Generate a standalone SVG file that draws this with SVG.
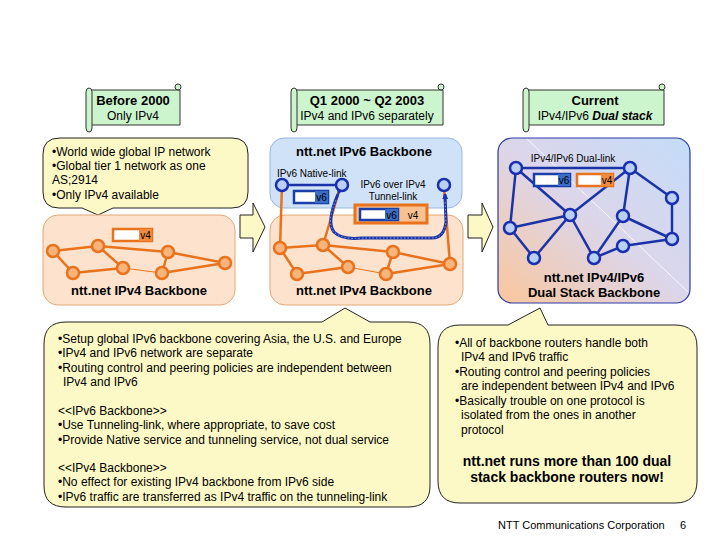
<svg xmlns="http://www.w3.org/2000/svg" width="720" height="540" viewBox="0 0 720 540">
<defs>
<style>
text{font-family:"Liberation Sans",Arial,sans-serif;fill:#000}
.t12{font-size:12px}
.t11{font-size:11px}
.t10{font-size:10px}
.b13{font-size:13px;font-weight:bold}
.b14{font-size:14px;font-weight:bold}
.scroll{fill:#cdf5cd;stroke:#333;stroke-width:1}
.call{fill:#fdf9c6;stroke:#222;stroke-width:1}
.arrow{fill:#fdf9c6;stroke:#222;stroke-width:1}
.opanel{fill:#fde3cd;stroke:#e2a877;stroke-width:1}
.bpanel{fill:#cfe2f8;stroke:#9ab6dd;stroke-width:1}
.oline{stroke:#e8731c;stroke-width:2.5;fill:none}
.othin{stroke:#e8731c;stroke-width:1;fill:none}
.onode{fill:#f8b47a;stroke:#e8731c;stroke-width:2.5}
.bline{stroke:#1a34a8;stroke-width:2.5;fill:none}
.bnode{fill:#b9d0f2;stroke:#1a2fb0;stroke-width:2.5}
</style>
<linearGradient id="dual" x1="0" y1="1" x2="1" y2="0">
<stop offset="0" stop-color="#fbc69c"/>
<stop offset="0.5" stop-color="#dcd6ea"/>
<stop offset="1" stop-color="#c4dcf8"/>
</linearGradient>
<marker id="ah" markerWidth="6" markerHeight="6" refX="5" refY="3" orient="auto" markerUnits="userSpaceOnUse">
<path d="M0,0 L6,3 L0,6 z" fill="#1a34a8"/>
</marker>
</defs>

<!-- Headers -->
<g id="hdr-before">
<path class="scroll" d="M89,90 H180 V125 H89 Z"/>
<path class="scroll" d="M86,92 Q86,88 89,88 Q92,88 92,92 V128 Q92,132 89,132 Q86,132 86,128 Z"/>
<circle class="scroll" cx="178" cy="87" r="3"/>
<text class="b13" x="133" y="105" text-anchor="middle">Before 2000</text>
<text class="t12" x="133" y="120" text-anchor="middle">Only IPv4</text>
</g>
<g id="hdr-q1">
<path class="scroll" d="M294,90 H443 V125 H294 Z"/>
<path class="scroll" d="M291,92 Q291,88 294,88 Q297,88 297,92 V128 Q297,132 294,132 Q291,132 291,128 Z"/>
<circle class="scroll" cx="441" cy="87" r="3"/>
<text class="b13" x="367" y="105" text-anchor="middle">Q1 2000 ~ Q2 2003</text>
<text class="t12" x="367" y="120" text-anchor="middle">IPv4 and IPv6 separately</text>
</g>
<g id="hdr-current">
<path class="scroll" d="M526,90 H664 V125 H526 Z"/>
<path class="scroll" d="M523,92 Q523,88 526,88 Q529,88 529,92 V128 Q529,132 526,132 Q523,132 523,128 Z"/>
<circle class="scroll" cx="662" cy="87" r="3"/>
<text class="b13" x="595" y="105" text-anchor="middle">Current</text>
<text class="t12" x="595" y="120" text-anchor="middle">IPv4/IPv6 <tspan font-weight="bold" font-style="italic">Dual stack</tspan></text>
</g>

<!-- Left callout -->
<g id="callout-before">
<path class="call" d="M60,138 H232 Q248,138 248,154 V192 Q248,208 232,208 H113 L98,215 L82,208 H59 Q43,208 43,192 V154 Q43,138 60,138 Z"/>
<text class="t12" x="52" y="156">•World wide global IP network</text>
<text class="t12" x="52" y="170">•Global tier 1 network as one</text>
<text class="t12" x="52" y="184">AS;2914</text>
<text class="t12" x="52" y="199">•Only IPv4 available</text>
</g>

<!-- Left IPv4 backbone -->
<g id="ipv4-left">
<rect class="opanel" x="43" y="215" width="192" height="90" rx="15"/>
<g>
<line class="oline" x1="53" y1="251" x2="98" y2="246"/>
<line class="oline" x1="98" y1="246" x2="168" y2="252"/>
<line class="oline" x1="168" y1="252" x2="225" y2="263"/>
<line class="oline" x1="53" y1="251" x2="73" y2="273"/>
<line class="oline" x1="73" y1="273" x2="123" y2="268"/>
<line class="oline" x1="98" y1="246" x2="123" y2="268"/>
<line class="othin" x1="123" y1="268" x2="162" y2="273"/>
<line class="oline" x1="162" y1="273" x2="225" y2="263"/>
<line class="oline" x1="168" y1="252" x2="162" y2="273"/>
</g>
<rect x="113" y="229" width="39" height="12" fill="#fff" stroke="#e8731c" stroke-width="2.5"/>
<rect x="139" y="229" width="13" height="12" fill="#f08a3c"/>
<text class="t10" x="145.5" y="239" text-anchor="middle">v4</text>
<circle class="onode" cx="53" cy="251" r="6"/>
<circle class="onode" cx="98" cy="246" r="6"/>
<circle class="onode" cx="168" cy="252" r="6"/>
<circle class="onode" cx="225" cy="263" r="6"/>
<circle class="onode" cx="73" cy="273" r="6"/>
<circle class="onode" cx="123" cy="268" r="6"/>
<circle class="onode" cx="162" cy="273" r="6"/>
<text class="b13" x="139" y="295" text-anchor="middle">ntt.net IPv4 Backbone</text>
</g>

<!-- Arrows between stages -->
<g id="arrow-1">
<path class="arrow" d="M240,215 H253 V203 L265,227 L253,252 V238 H240 Z"/>
</g>
<g id="arrow-2">
<path class="arrow" d="M468,215 H482 V203 L493,227 L482,252 V238 H468 Z"/>
</g>

<!-- Middle: IPv6 backbone -->
<g id="ipv6-mid">
<rect class="bpanel" x="270" y="138" width="192" height="70" rx="14"/>
<text class="b13" x="364" y="156" text-anchor="middle">ntt.net IPv6 Backbone</text>
<text class="t10" x="277" y="177">IPv6 Native-link</text>
<text class="t10" x="393" y="188" text-anchor="middle">IPv6 over IPv4</text>
<text class="t10" x="393" y="200" text-anchor="middle">Tunnel-link</text>
</g>

<!-- Middle: IPv4 backbone -->
<g id="ipv4-mid">
<rect class="opanel" x="270" y="215" width="193" height="90" rx="15"/>
<text class="b13" x="364" y="295" text-anchor="middle">ntt.net IPv4 Backbone</text>
</g>

<!-- Right: dual stack panel -->
<g id="dual-stack">
<rect x="498" y="138" width="192" height="165" rx="14" fill="url(#dual)" stroke="#2a3aa8" stroke-width="1.2"/>
<line x1="527" y1="139" x2="688" y2="292" stroke="#fff" stroke-width="1" opacity="0.85"/>
<text class="t10" x="573" y="162" text-anchor="middle">IPv4/IPv6 Dual-link</text>
<text class="b13" x="594" y="282" text-anchor="middle">ntt.net IPv4/IPv6</text>
<text class="b13" x="594" y="297" text-anchor="middle">Dual Stack Backbone</text>
</g>

<!-- Connectors -->
<g id="connectors">
<line class="oline" x1="282" y1="185" x2="280" y2="248"/>
<line class="oline" x1="340" y1="188" x2="323" y2="245"/>
<line class="oline" x1="444" y1="188" x2="450" y2="264"/>
<line class="oline" x1="280" y1="248" x2="323" y2="245"/>
<line class="oline" x1="323" y1="245" x2="393" y2="252"/>
<line class="oline" x1="393" y1="252" x2="450" y2="264"/>
<line class="oline" x1="280" y1="248" x2="297" y2="274"/>
<line class="oline" x1="297" y1="274" x2="348" y2="267"/>
<line class="oline" x1="323" y1="245" x2="348" y2="267"/>
<line class="othin" x1="348" y1="267" x2="386" y2="274"/>
<line class="oline" x1="386" y1="274" x2="450" y2="264"/>
<line class="oline" x1="393" y1="252" x2="386" y2="274"/>
<line class="bline" x1="282" y1="185" x2="342" y2="185"/>
<path d="M338,194 Q326,222 334,232 Q342,240 362,238 H432 Q444,238 446,222 L445,194" fill="none" stroke="#1a34a8" stroke-width="3" marker-start="url(#ah)" marker-end="url(#ah)"/>
<path d="M336,200 Q326,222 334,232 Q342,240 362,238 H432 Q444,238 446,222 L445,200" fill="none" stroke="#8aa4e0" stroke-width="1" stroke-dasharray="1.5 2"/>
<line class="bline" x1="516" y1="168" x2="630" y2="168"/>
<line class="bline" x1="516" y1="168" x2="510" y2="228"/>
<line class="bline" x1="516" y1="168" x2="570" y2="215"/>
<line class="bline" x1="630" y1="168" x2="672" y2="198"/>
<line class="bline" x1="630" y1="168" x2="570" y2="215"/>
<line class="bline" x1="630" y1="168" x2="623" y2="216"/>
<line class="bline" x1="672" y1="198" x2="672" y2="239"/>
<line class="bline" x1="570" y1="215" x2="510" y2="228"/>
<line class="bline" x1="570" y1="215" x2="534" y2="258"/>
<line class="bline" x1="570" y1="215" x2="594" y2="258"/>
<line class="bline" x1="510" y1="228" x2="534" y2="258"/>
<line class="bline" x1="623" y1="216" x2="672" y2="239"/>
<line class="bline" x1="623" y1="216" x2="594" y2="258"/>
<line class="bline" x1="594" y1="258" x2="623" y2="246"/>
<line class="bline" x1="623" y1="246" x2="672" y2="239"/>
</g>

<!-- Middle nodes and link labels -->
<g id="mid-nodes">
<circle class="bnode" cx="282" cy="185" r="6"/>
<circle class="bnode" cx="342" cy="185" r="6"/>
<circle class="bnode" cx="444" cy="185" r="6"/>
<circle class="onode" cx="280" cy="248" r="6"/>
<circle class="onode" cx="323" cy="245" r="6"/>
<circle class="onode" cx="393" cy="252" r="6"/>
<circle class="onode" cx="450" cy="264" r="6"/>
<circle class="onode" cx="297" cy="274" r="6"/>
<circle class="onode" cx="348" cy="267" r="6"/>
<circle class="onode" cx="386" cy="274" r="6"/>
</g>
<g id="label-v6-native">
<rect x="294" y="191" width="34" height="12" fill="#fff" stroke="#1a3fa8" stroke-width="2.5"/>
<rect x="315" y="191" width="13" height="12" fill="#3b6cc8"/>
<text class="t10" x="321.5" y="201" text-anchor="middle">v6</text>
</g>
<g id="label-tunnel">
<rect x="355" y="205" width="72" height="18" fill="#f8c192" stroke="#e8731c" stroke-width="3"/>
<rect x="360" y="209" width="38" height="11" fill="#fff" stroke="#1a3fa8" stroke-width="2.5"/>
<rect x="385" y="209" width="13" height="11" fill="#3b6cc8"/>
<text class="t10" x="391.5" y="218.5" text-anchor="middle">v6</text>
<text class="t10" x="413" y="218.5" text-anchor="middle">v4</text>
</g>

<g id="dual-nodes">
<circle class="bnode" cx="516" cy="168" r="6"/>
<circle class="bnode" cx="630" cy="168" r="6"/>
<circle class="bnode" cx="672" cy="198" r="6"/>
<circle class="bnode" cx="570" cy="215" r="6"/>
<circle class="bnode" cx="623" cy="216" r="6"/>
<circle class="bnode" cx="510" cy="228" r="6"/>
<circle class="bnode" cx="672" cy="239" r="6"/>
<circle class="bnode" cx="623" cy="246" r="6"/>
<circle class="bnode" cx="534" cy="258" r="6"/>
<circle class="bnode" cx="594" cy="258" r="6"/>
</g>
<g id="label-dual">
<rect x="534" y="174" width="36" height="12" fill="#fff" stroke="#1a3fa8" stroke-width="2.5"/>
<rect x="558" y="174" width="12" height="12" fill="#3b6cc8"/>
<text class="t10" x="564" y="184" text-anchor="middle">v6</text>
<rect x="577" y="174" width="36" height="12" fill="#fff" stroke="#e8731c" stroke-width="2.5"/>
<rect x="601" y="174" width="12" height="12" fill="#f08a3c"/>
<text class="t10" x="607" y="184" text-anchor="middle">v4</text>
</g>

<!-- Middle callout -->
<g id="callout-mid">
<path class="call" d="M66,322 H322 L345,308 L370,322 H408 Q430,322 430,344 V486 Q430,507 408,507 H66 Q44,507 44,486 V344 Q44,322 66,322 Z"/>
<text class="t12" x="58" y="343">•Setup global IPv6 backbone covering Asia, the U.S. and Europe</text>
<text class="t12" x="58" y="357">•IPv4 and IPv6 network are separate</text>
<text class="t12" x="58" y="372">•Routing control and peering policies are independent between</text>
<text class="t12" x="63" y="386">IPv4 and IPv6</text>
<text class="t12" x="58" y="415">&lt;&lt;IPv6 Backbone&gt;&gt;</text>
<text class="t12" x="58" y="429">•Use Tunneling-link, where appropriate, to save cost</text>
<text class="t12" x="58" y="444">•Provide Native service and tunneling service, not dual service</text>
<text class="t12" x="58" y="472">&lt;&lt;IPv4 Backbone&gt;&gt;</text>
<text class="t12" x="58" y="486">•No effect for existing IPv4 backbone from IPv6 side</text>
<text class="t12" x="58" y="501">•IPv6 traffic are transferred as IPv4 traffic on the tunneling-link</text>
</g>

<!-- Right callout -->
<g id="callout-right">
<path class="call" d="M460,325 H508 L540,308 L548,325 H675 Q697,325 697,347 V481 Q697,503 675,503 H460 Q438,503 438,481 V347 Q438,325 460,325 Z"/>
<text class="t12" x="455" y="347">•All of backbone routers handle both</text>
<text class="t12" x="461" y="361">IPv4 and IPv6 traffic</text>
<text class="t12" x="455" y="376">•Routing control and peering policies</text>
<text class="t12" x="461" y="390">are independent between IPv4 and IPv6</text>
<text class="t12" x="455" y="405">•Basically trouble on one protocol is</text>
<text class="t12" x="461" y="419">isolated from the ones in another</text>
<text class="t12" x="461" y="434">protocol</text>
<text class="b14" x="567" y="466" text-anchor="middle">ntt.net runs more than 100 dual</text>
<text class="b14" x="567" y="482" text-anchor="middle">stack backbone routers now!</text>
</g>

<!-- Footer -->
<g id="footer">
<text class="t11" x="498" y="529">NTT Communications Corporation</text>
<text class="t11" x="680" y="529">6</text>
</g>
</svg>
